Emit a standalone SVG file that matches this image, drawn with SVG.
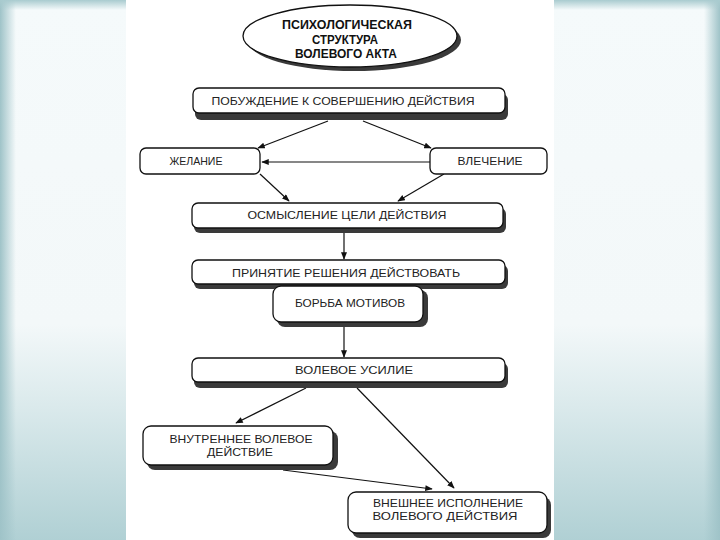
<svg xmlns="http://www.w3.org/2000/svg" width="720" height="540" viewBox="0 0 720 540">
<defs>
<linearGradient id="bgV" x1="0" y1="0" x2="0" y2="1">
<stop offset="0" stop-color="#f5fafb"/>
<stop offset="0.6" stop-color="#f3f8f9"/>
<stop offset="0.75" stop-color="#dbeaec"/>
<stop offset="1" stop-color="#b0d0d4"/>
</linearGradient>
<linearGradient id="edgeL" x1="0" y1="0" x2="1" y2="0">
<stop offset="0" stop-color="#9fc3c8"/>
<stop offset="1" stop-color="#9fc3c8" stop-opacity="0"/>
</linearGradient>
<linearGradient id="edgeR" x1="1" y1="0" x2="0" y2="0">
<stop offset="0" stop-color="#9fc3c8"/>
<stop offset="1" stop-color="#9fc3c8" stop-opacity="0"/>
</linearGradient>
<linearGradient id="edgeT" x1="0" y1="0" x2="0" y2="1">
<stop offset="0" stop-color="#a9cbcf"/>
<stop offset="1" stop-color="#a9cbcf" stop-opacity="0"/>
</linearGradient>
<marker id="ah" viewBox="0 0 10 8" refX="9" refY="4" markerWidth="8" markerHeight="6" markerUnits="userSpaceOnUse" orient="auto">
<path d="M0,0 L10,4 L0,8 Z" fill="#111"/>
</marker>
<style>
.box{fill:#fff;stroke:#111;stroke-width:1.3}
.sh{fill:#3a3a3a}
.t{font-family:"Liberation Sans",Arial,sans-serif;font-size:11px;fill:#222;text-anchor:middle}
.tb{font-family:"Liberation Sans",Arial,sans-serif;font-size:12px;font-weight:bold;fill:#111;text-anchor:middle}
.c{stroke:#111;stroke-width:1.2;fill:none;marker-end:url(#ah)}
</style>
</defs>
<g id="background">
<rect x="0" y="0" width="720" height="540" fill="url(#bgV)"/>
<rect x="0" y="0" width="16" height="540" fill="url(#edgeL)"/>
<rect x="704" y="0" width="16" height="540" fill="url(#edgeR)"/>
<rect x="0" y="0" width="720" height="10" fill="url(#edgeT)"/>
<rect x="126" y="0" width="428" height="540" fill="#fff"/>
</g>
<g id="connectors">
<line class="c" x1="328" y1="121" x2="258" y2="148"/>
<line class="c" x1="363" y1="121" x2="431" y2="148"/>
<line class="c" x1="430" y1="162" x2="262" y2="162" stroke="#444"/>
<line class="c" x1="260" y1="174" x2="289" y2="201"/>
<line class="c" x1="444" y1="174" x2="398" y2="201"/>
<line class="c" x1="344" y1="233" x2="344" y2="259"/>
<line class="c" x1="344" y1="327" x2="344" y2="357"/>
<line class="c" x1="306" y1="388" x2="236" y2="423"/>
<line class="c" x1="357" y1="388" x2="454" y2="488"/>
<line class="c" x1="283" y1="470" x2="432" y2="489"/>
</g>
<g id="title">
<ellipse cx="354" cy="40" rx="107" ry="31" class="sh"/>
<ellipse cx="350" cy="36" rx="107" ry="31" class="box"/>
<text class="tb" x="347" y="29" textLength="130" lengthAdjust="spacingAndGlyphs">ПСИХОЛОГИЧЕСКАЯ</text>
<text class="tb" x="345" y="44" textLength="66" lengthAdjust="spacingAndGlyphs">СТРУКТУРА</text>
<text class="tb" x="346" y="58" textLength="102" lengthAdjust="spacingAndGlyphs">ВОЛЕВОГО АКТА</text>
</g>
<g id="n-pobuzhdenie">
<rect class="sh" x="195" y="94" width="313" height="26" rx="6"/>
<rect class="box" x="193" y="88" width="312" height="25" rx="6"/>
<text class="t" x="343" y="105" textLength="263" lengthAdjust="spacingAndGlyphs">ПОБУЖДЕНИЕ К СОВЕРШЕНИЮ ДЕЙСТВИЯ</text>
</g>
<g id="n-zhelanie">
<rect class="box" x="140" y="148" width="120" height="26" rx="6"/>
<text class="t" x="196" y="165" textLength="53" lengthAdjust="spacingAndGlyphs">ЖЕЛАНИЕ</text>
</g>
<g id="n-vlechenie">
<rect class="box" x="430" y="148" width="117" height="26" rx="6"/>
<text class="t" x="490" y="165" textLength="65" lengthAdjust="spacingAndGlyphs">ВЛЕЧЕНИЕ</text>
</g>
<g id="n-osmyslenie">
<rect class="sh" x="194" y="208" width="312" height="25" rx="6"/>
<rect class="box" x="192" y="203" width="311" height="25" rx="6"/>
<text class="t" x="347" y="219" textLength="199" lengthAdjust="spacingAndGlyphs">ОСМЫСЛЕНИЕ  ЦЕЛИ ДЕЙСТВИЯ</text>
</g>
<g id="n-prinyatie">
<rect class="sh" x="194" y="265" width="314" height="24" rx="6"/>
<rect class="box" x="192" y="260" width="313" height="24" rx="6"/>
<text class="t" x="346" y="277" textLength="228" lengthAdjust="spacingAndGlyphs">ПРИНЯТИЕ  РЕШЕНИЯ  ДЕЙСТВОВАТЬ</text>
</g>
<g id="n-borba">
<rect class="sh" x="277" y="290" width="151" height="37" rx="8"/>
<rect class="box" x="273" y="286" width="150" height="36" rx="8"/>
<text class="t" x="350" y="307" textLength="110" lengthAdjust="spacingAndGlyphs">БОРЬБА МОТИВОВ</text>
</g>
<g id="n-usilie">
<rect class="sh" x="194" y="363" width="314" height="25" rx="6"/>
<rect class="box" x="192" y="358" width="313" height="24" rx="6"/>
<text class="t" x="354" y="374" textLength="118" lengthAdjust="spacingAndGlyphs">ВОЛЕВОЕ УСИЛИЕ</text>
</g>
<g id="n-vnutrennee">
<rect class="sh" x="147" y="431" width="191" height="39" rx="8"/>
<rect class="box" x="143" y="426" width="190" height="39" rx="8"/>
<text class="t" x="241" y="443" textLength="143" lengthAdjust="spacingAndGlyphs">ВНУТРЕННЕЕ  ВОЛЕВОЕ</text>
<text class="t" x="240" y="456" textLength="66" lengthAdjust="spacingAndGlyphs">ДЕЙСТВИЕ</text>
</g>
<g id="n-vneshnee">
<rect class="sh" x="352" y="497" width="199" height="41" rx="8"/>
<rect class="box" x="348" y="492" width="199" height="41" rx="8"/>
<text class="t" x="448" y="507" textLength="150" lengthAdjust="spacingAndGlyphs">ВНЕШНЕЕ  ИСПОЛНЕНИЕ</text>
<text class="t" x="445" y="520" textLength="145" lengthAdjust="spacingAndGlyphs">ВОЛЕВОГО  ДЕЙСТВИЯ</text>
</g>
</svg>
